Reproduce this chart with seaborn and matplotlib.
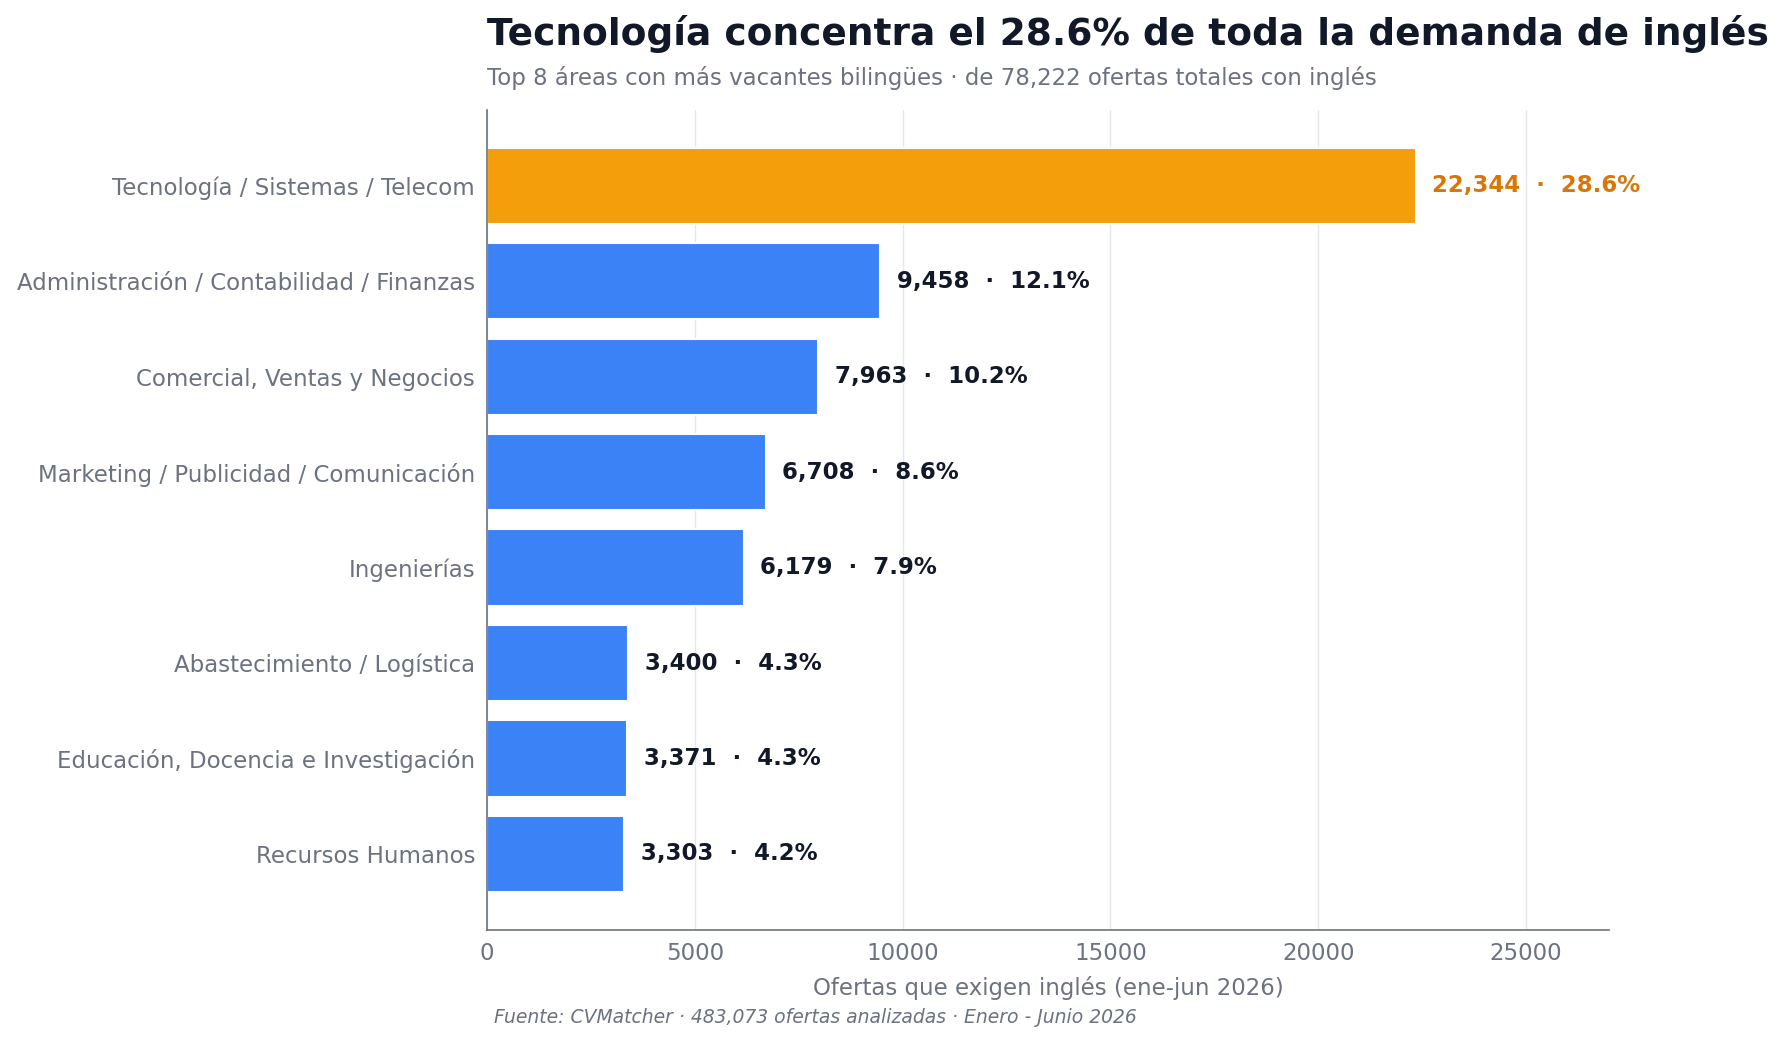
import matplotlib
matplotlib.use("Agg")
import matplotlib.pyplot as plt
import seaborn as sns
import pandas as pd

areas = [
    "Tecnología / Sistemas / Telecom",
    "Administración / Contabilidad / Finanzas",
    "Comercial, Ventas y Negocios",
    "Marketing / Publicidad / Comunicación",
    "Ingenierías",
    "Abastecimiento / Logística",
    "Educación, Docencia e Investigación",
    "Recursos Humanos",
]
ofertas = [22344, 9458, 7963, 6708, 6179, 3400, 3371, 3303]
porcentajes = [28.6, 12.1, 10.2, 8.6, 7.9, 4.3, 4.3, 4.2]
total_ingles = 78222

ORANGE = "#F59E0B"
ORANGE_TXT = "#D97706"
BLUE = "#3B82F6"
DARK = "#111827"
GRAY = "#6B7280"

sns.set_style("white")
plt.rcParams["font.family"] = ["DejaVu Sans"]

df = pd.DataFrame({"area": areas, "ofertas": ofertas, "pct": porcentajes})
colors = [ORANGE if i == 0 else BLUE for i in range(len(df))]

fig, ax = plt.subplots(figsize=(17.84, 10.43), dpi=100)
fig.subplots_adjust(left=0.273, right=0.902, top=0.895, bottom=0.108)

sns.barplot(data=df, x="ofertas", y="area", hue="area", palette=colors,
            legend=False, width=0.8, saturation=1, edgecolor="white",
            linewidth=1.5, ax=ax)

ax.set_axisbelow(True)
ax.grid(axis="x", color="#E5E7EB", linewidth=1)
ax.grid(axis="y", visible=False)

for i, row in df.iterrows():
    c = ORANGE_TXT if i == 0 else DARK
    ax.text(row["ofertas"] + 400, i, f"{row['ofertas']:,}  ·  {row['pct']}%",
            va="center", ha="left", fontsize=16.5, fontweight="bold", color=c)

ax.set_xlim(0, 27000)
ax.set_ylim(7.8, -0.8)

for s in ["top", "right"]:
    ax.spines[s].set_visible(False)
for s in ["left", "bottom"]:
    ax.spines[s].set_color(GRAY)
    ax.spines[s].set_linewidth(1.2)

ax.tick_params(axis="both", colors=GRAY, labelsize=16.5, length=5, width=1)
ax.set_ylabel("")
ax.set_xlabel("Ofertas que exigen inglés (ene-jun 2026)", fontsize=16.5, color=GRAY, labelpad=8)

fig.text(0.273, 0.986, "Tecnología concentra el 28.6% de toda la demanda de inglés",
         fontsize=27, fontweight="bold", color=DARK, ha="left", va="top")
fig.text(0.273, 0.925, f"Top 8 áreas con más vacantes bilingües · de {total_ingles:,} ofertas totales con inglés",
         fontsize=16.5, color=GRAY, ha="left", va="center")
fig.text(0.277, 0.024, "Fuente: CVMatcher · 483,073 ofertas analizadas · Enero - Junio 2026",
         fontsize=13.5, style="italic", color=GRAY, ha="left", va="center")

fig.savefig("out.png", dpi=100)
